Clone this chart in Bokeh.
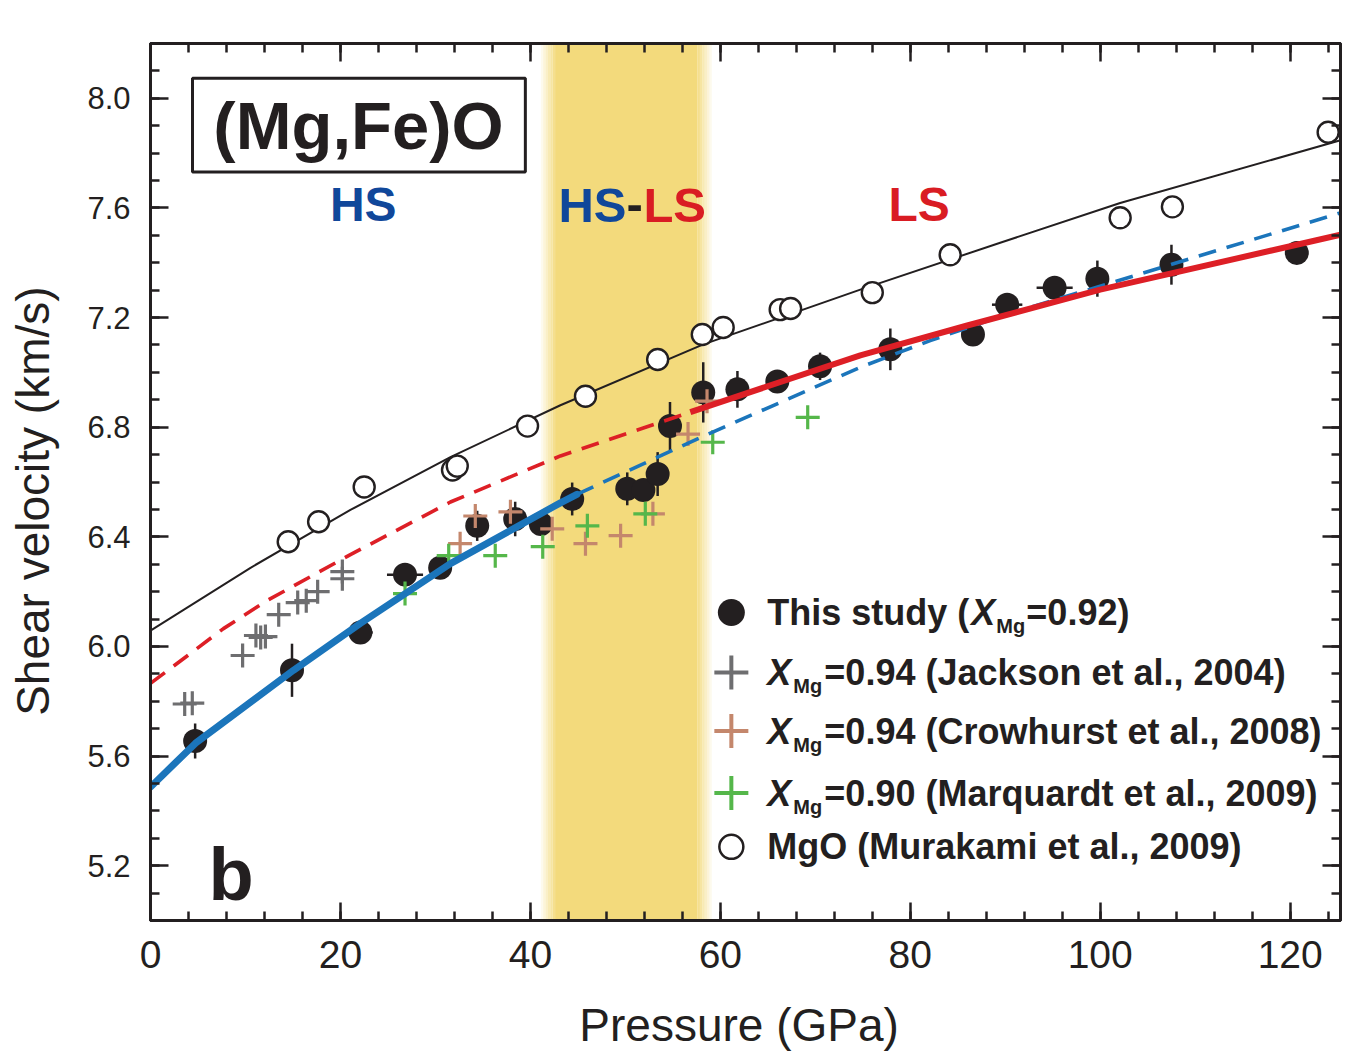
from bokeh.plotting import figure
from bokeh.models import FixedTicker, LinearAxis, BoxAnnotation, Range1d, PrintfTickFormatter
from bokeh.core.properties import value
from bokeh.embed import file_html
from bokeh.resources import INLINE

# ---------------- data ----------------
# This study, X_Mg = 0.92 (filled circles)
ts_P = [4.7, 14.9, 22.1, 26.8, 30.5, 34.4, 38.4, 41.1, 44.4, 50.2, 51.9, 53.4,
        54.7, 58.2, 61.8, 66.0, 70.5, 77.9, 86.6, 90.2, 95.2, 99.7, 107.5, 120.7]
ts_V = [5.655, 5.913, 6.051, 6.262, 6.287, 6.440, 6.465, 6.447, 6.538, 6.575, 6.571, 6.629,
        6.804, 6.927, 6.938, 6.967, 7.022, 7.084, 7.138, 7.247, 7.309, 7.342, 7.393, 7.436]
ts_Verr = [0.064, 0.097, 0.0, 0.0, 0.0, 0.055, 0.063, 0.0, 0.06, 0.06, 0.0, 0.08,
           0.088, 0.11, 0.067, 0.0, 0.05, 0.076, 0.0, 0.0, 0.0, 0.066, 0.073, 0.0]
ts_Perr = [0.0, 0.0, 1.3, 1.9, 0.0, 0.0, 0.0, 0.0, 0.0, 0.0, 0.0, 0.0,
           0.0, 0.0, 0.0, 0.0, 0.0, 0.0, 0.0, 1.6, 1.9, 0.0, 0.0, 0.0]

# Jackson et al., 2004 (X_Mg = 0.94)
jk_P = [3.6, 4.4, 9.7, 11.1, 11.6, 12.1, 13.5, 15.5, 16.4, 17.6, 20.2, 20.2]
jk_V = [5.790, 5.793, 5.967, 6.040, 6.033, 6.036, 6.116, 6.160, 6.167, 6.200, 6.273, 6.247]

# Crowhurst et al., 2008 (X_Mg = 0.94)
cr_P = [32.6, 34.2, 37.9, 42.3, 45.8, 49.5, 52.9, 56.6, 58.6]
cr_V = [6.375, 6.476, 6.491, 6.429, 6.375, 6.404, 6.484, 6.775, 6.895]

# Marquardt et al., 2009 (X_Mg = 0.90)
mq_P = [26.8, 31.4, 36.3, 41.3, 46.0, 52.1, 59.2, 69.2]
mq_V = [6.193, 6.331, 6.331, 6.364, 6.440, 6.484, 6.745, 6.836]

# MgO, Murakami et al., 2009 (open circles)
mgo_P = [14.5, 17.7, 22.5, 31.8, 32.3, 39.7, 45.8, 53.4, 58.1, 60.3, 66.3, 67.4,
         76.0, 84.2, 102.1, 107.6, 124.0]
mgo_V = [6.382, 6.455, 6.582, 6.644, 6.658, 6.804, 6.913, 7.047, 7.138, 7.164, 7.229, 7.233,
         7.291, 7.429, 7.564, 7.604, 7.876]

# fitted curves
mgo_fit_P = [0, 10.53, 21.05, 31.58, 43.16, 58.21, 74.74, 89.47, 102.1, 124.2, 125.3]
mgo_fit_V = [6.058, 6.287, 6.498, 6.691, 6.880, 7.102, 7.302, 7.473, 7.618, 7.836, 7.847]

hs_fit_P = [0, 4.74, 15.05, 22.1, 31.58, 43.16, 44.9, 58.2, 74.7, 82.1, 89.5, 125.3]
hs_fit_V = [5.487, 5.647, 5.913, 6.084, 6.302, 6.524, 6.555, 6.767, 7.018, 7.116, 7.204, 7.582]

ls_fit_P = [0, 7.68, 12.1, 21.05, 31.58, 43.16, 56.84, 74.74, 86.0, 100.0, 125.3]
ls_fit_V = [5.865, 6.065, 6.164, 6.335, 6.527, 6.695, 6.855, 7.062, 7.171, 7.302, 7.502]

hs_end = 44.9     # HS fit drawn solid up to here
ls_start = 56.84  # LS fit drawn solid from here
band_lo, band_hi = 42.6, 57.6   # HS-LS transition band

x_major = [0, 20, 40, 60, 80, 100, 120]
x_minor = [4 * i for i in range(32)]
y_major = [5.2, 5.6, 6.0, 6.4, 6.8, 7.2, 7.6, 8.0]
y_minor = [round(5.0 + 0.1 * i, 1) for i in range(33)]

# ---------------- styles ----------------
INK = "#231F20"
BLUE = "#1B75BB"
RED = "#DD1F26"
BLUE_TXT = "#10479A"
RED_TXT = "#D91C23"
GRAY = "#6E6E70"
BROWN = "#C4876C"
GREEN = "#55B74A"
BAND = "#F3DA7C"
FONT = "Liberation Sans"
NB = "\u00a0"

p = figure(width=1371, height=1054, x_range=Range1d(0, 125.3), y_range=Range1d(5.0, 8.2),
           output_backend="svg", toolbar_location=None,
           min_border_left=150, min_border_right=31, min_border_top=43, min_border_bottom=134,
           background_fill_color="white", border_fill_color="white")
p.grid.visible = False
p.outline_line_color = INK
p.outline_line_width = 3


def style_axis(ax, major, minor, size, show):
    ax.ticker = FixedTicker(ticks=major, minor_ticks=minor)
    ax.major_tick_in = 18
    ax.major_tick_out = 0
    ax.minor_tick_in = 9
    ax.minor_tick_out = 0
    ax.major_tick_line_width = 2.5
    ax.minor_tick_line_width = 2.5
    ax.major_tick_line_color = INK
    ax.minor_tick_line_color = INK
    ax.axis_line_color = INK
    ax.axis_line_width = 3
    ax.major_label_text_font = FONT
    if show:
        ax.major_label_text_font_size = size
        ax.major_label_text_color = INK
    else:
        ax.major_label_text_font_size = "1px"
        ax.major_label_text_color = None
        ax.major_label_standoff = 0


xa = p.xaxis[0]
style_axis(xa, x_major, x_minor, "39px", True)
xa.major_label_standoff = 20
xa.axis_label = "Pressure (GPa)" + NB
xa.axis_label_text_font = FONT
xa.axis_label_text_font_size = "46px"
xa.axis_label_text_font_style = "normal"
xa.axis_label_text_color = INK
xa.axis_label_standoff = 28

ya = p.yaxis[0]
style_axis(ya, y_major, y_minor, "31px", True)
ya.formatter = PrintfTickFormatter(format="%.1f")
ya.major_label_standoff = 20
ya.axis_label = "Shear velocity (km/s)" + NB * 3
ya.axis_label_text_font = FONT
ya.axis_label_text_font_size = "46px"
ya.axis_label_text_font_style = "normal"
ya.axis_label_text_color = INK
ya.axis_label_standoff = 25

top = LinearAxis()
style_axis(top, x_major, x_minor, "1px", False)
p.add_layout(top, "above")
right = LinearAxis()
style_axis(right, y_major, y_minor, "1px", False)
p.add_layout(right, "right")

# HS-LS band with soft edges
p.add_layout(BoxAnnotation(left=band_lo, right=band_hi, fill_color=BAND, fill_alpha=1.0,
                           line_color=None, level="underlay"))
for k in range(6):
    a = 1.0 - (k + 1) / 7.0
    w = 0.25
    p.add_layout(BoxAnnotation(left=band_lo - (k + 1) * w, right=band_lo - k * w, fill_color=BAND,
                               fill_alpha=a, line_color=None, level="underlay"))
    p.add_layout(BoxAnnotation(left=band_hi + k * w, right=band_hi + (k + 1) * w, fill_color=BAND,
                               fill_alpha=a, line_color=None, level="underlay"))

# title box
p.add_layout(BoxAnnotation(left=4.42, right=39.47, top=8.073, bottom=7.731, fill_color="white",
                           fill_alpha=1, line_color=INK, line_alpha=1, line_width=3,
                           level="underlay"))

# ---------------- marks ----------------
# error bars (this study)
vx = [P for P, e in zip(ts_P, ts_Verr) if e > 0]
vy0 = [V - e for V, e in zip(ts_V, ts_Verr) if e > 0]
vy1 = [V + e for V, e in zip(ts_V, ts_Verr) if e > 0]
p.segment(x0=vx, y0=vy0, x1=vx, y1=vy1, line_color=INK, line_width=2.5)
hy = [V for V, e in zip(ts_V, ts_Perr) if e > 0]
hx0 = [P - e for P, e in zip(ts_P, ts_Perr) if e > 0]
hx1 = [P + e for P, e in zip(ts_P, ts_Perr) if e > 0]
p.segment(x0=hx0, y0=hy, x1=hx1, y1=hy, line_color=INK, line_width=2.5)

p.scatter(ts_P, ts_V, marker="circle", size=24, fill_color=INK, line_color=None)

p.scatter(jk_P, jk_V, marker="cross", size=24, line_color=GRAY, line_width=3.2)
p.scatter(cr_P, cr_V, marker="cross", size=24, line_color=BROWN, line_width=3.2)
p.scatter(mq_P, mq_V, marker="cross", size=24, line_color=GREEN, line_width=3.2)

# fits
hs_solid = [(P, V) for P, V in zip(hs_fit_P, hs_fit_V) if P <= hs_end]
hs_dash = [(P, V) for P, V in zip(hs_fit_P, hs_fit_V) if P >= hs_end]
ls_dash = [(P, V) for P, V in zip(ls_fit_P, ls_fit_V) if P <= ls_start]
ls_solid = [(P, V) for P, V in zip(ls_fit_P, ls_fit_V) if P >= ls_start]

p.line([a for a, b in ls_dash], [b for a, b in ls_dash], line_color=RED, line_width=3.6,
       line_dash="18 11")
p.line([a for a, b in hs_dash], [b for a, b in hs_dash], line_color=BLUE, line_width=3.6,
       line_dash="18 11")
p.line([a for a, b in hs_solid], [b for a, b in hs_solid], line_color=BLUE, line_width=7,
       line_cap="round")
p.line([a for a, b in ls_solid], [b for a, b in ls_solid], line_color=RED, line_width=6)

p.line(mgo_fit_P, mgo_fit_V, line_color=INK, line_width=2)
p.scatter(mgo_P, mgo_V, marker="circle", size=21, fill_color="white", line_color=INK, line_width=2.4)

# ---------------- texts ----------------
p.text(x=[21.9], y=[7.902], text=["(Mg,Fe)O"], text_font=value(FONT), text_font_size="67px",
       text_font_style="bold", text_color=INK, text_align="center", text_baseline="middle")
p.text(x=[22.4], y=[7.611], text=["HS"], text_font=value(FONT), text_font_size="48px",
       text_font_style="bold", text_color=BLUE_TXT, text_align="center", text_baseline="middle")
p.text(x=[42.95], y=[7.611], text=["HS"], text_font=value(FONT), text_font_size="49px",
       text_font_style="bold", text_color=BLUE_TXT, text_align="left", text_baseline="middle")
p.text(x=[42.95], y=[7.611], text=["-"], x_offset=68, text_font=value(FONT), text_font_size="49px",
       text_font_style="bold", text_color=INK, text_align="left", text_baseline="middle")
p.text(x=[42.95], y=[7.611], text=["LS"], x_offset=85, text_font=value(FONT), text_font_size="49px",
       text_font_style="bold", text_color=RED_TXT, text_align="left", text_baseline="middle")
p.text(x=[77.7], y=[7.611], text=["LS"], text_font=value(FONT), text_font_size="48px",
       text_font_style="bold", text_color=RED_TXT, text_align="left", text_baseline="middle")
p.text(x=[6.1], y=[5.167], text=["b"], text_font=value(FONT), text_font_size="74px",
       text_font_style="bold", text_color=INK, text_align="left", text_baseline="alphabetic")

# ---------------- legend (manual, for the subscripts) ----------------
leg_mx = 61.16
leg_tx = 64.95
leg_y = [6.124, 5.905, 5.691, 5.465, 5.269]
LF = "36px"
SF = "20px"

p.scatter([leg_mx], [leg_y[0]], marker="circle", size=27, fill_color=INK, line_color=None)
p.scatter([leg_mx], [leg_y[1]], marker="cross", size=34, line_color=GRAY, line_width=4)
p.scatter([leg_mx], [leg_y[2]], marker="cross", size=34, line_color=BROWN, line_width=4)
p.scatter([leg_mx], [leg_y[3]], marker="cross", size=34, line_color=GREEN, line_width=4)
p.scatter([leg_mx], [leg_y[4]], marker="circle", size=24, fill_color="white", line_color=INK,
          line_width=2.5)


def ltext(y, s, off=0, size=LF, style="bold", dy=0):
    p.text(x=[leg_tx], y=[y], text=[s], x_offset=off, y_offset=dy, text_font=value(FONT),
           text_font_size=size, text_font_style=style, text_color=INK, text_align="left",
           text_baseline="middle")


ltext(leg_y[0], "This study (")
ltext(leg_y[0], "X", off=204, style="bold italic")
ltext(leg_y[0], "Mg", off=229, size=SF, dy=14)
ltext(leg_y[0], "=0.92)", off=259)

rest = ["=0.94 (Jackson et al., 2004)", "=0.94 (Crowhurst et al., 2008)",
        "=0.90 (Marquardt et al., 2009)"]
for y, s in zip(leg_y[1:4], rest):
    ltext(y, "X", off=0, style="bold italic")
    ltext(y, "Mg", off=26, size=SF, dy=14)
    ltext(y, s, off=57)
ltext(leg_y[4], "MgO (Murakami et al., 2009)")

open("out.html", "w").write(file_html(p, INLINE))
